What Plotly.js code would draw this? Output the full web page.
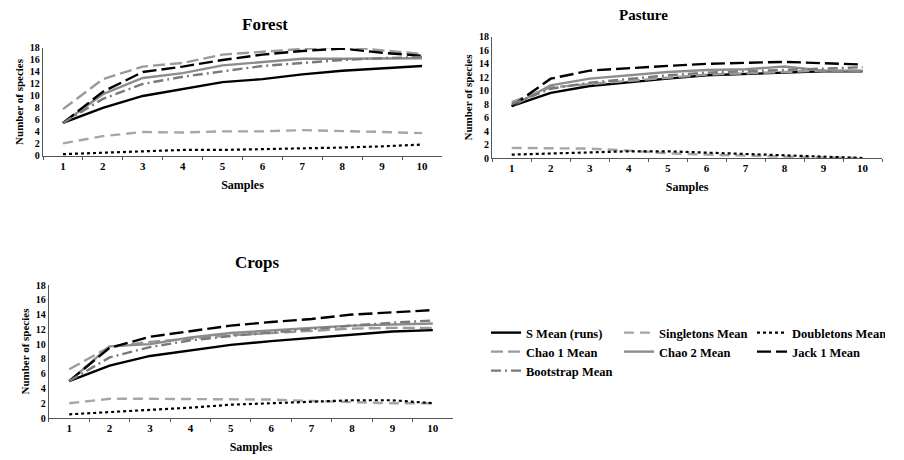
<!DOCTYPE html>
<html><head><meta charset="utf-8">
<script src="https://cdn.plot.ly/plotly-3.0.1.min.js"></script>
<style>html,body{margin:0;padding:0;background:#fff}#chart{width:904px;height:460px}</style>
</head><body><div id="chart"></div>
<script>
const samples = ['1','2','3','4','5','6','7','8','9','10'];
const seriesNames = ['S Mean (runs)','Singletons Mean','Doubletons Mean','Chao 1 Mean','Chao 2 Mean','Jack 1 Mean','Bootstrap Mean'];

const forestS     = [5.5, 8.0, 10.0, 11.2, 12.3, 12.8, 13.6, 14.2, 14.6, 15.0];
const forestSing  = [2.1, 3.3, 4.0, 3.9, 4.1, 4.1, 4.3, 4.2, 4.0, 3.8];
const forestDoub  = [0.3, 0.5, 0.7, 1.0, 1.0, 1.1, 1.2, 1.4, 1.6, 1.9];
const forestChao1 = [7.8, 12.8, 14.9, 15.5, 16.9, 17.4, 17.8, 18.3, 17.6, 17.0];
const forestChao2 = [5.5, 10.3, 13.0, 13.8, 15.1, 15.7, 16.2, 16.2, 16.3, 16.3];
const forestJack1 = [5.5, 10.7, 14.0, 14.9, 16.0, 16.9, 17.5, 17.9, 17.2, 16.7];
const forestBoot  = [5.5, 9.5, 12.0, 13.2, 14.1, 15.0, 15.5, 16.0, 16.3, 16.5];

const pastureS     = [7.7, 9.7, 10.7, 11.3, 11.8, 12.3, 12.5, 12.8, 12.9, 12.9];
const pastureSing  = [1.5, 1.5, 1.4, 1.1, 0.7, 0.5, 0.3, 0.2, 0.1, 0.0];
const pastureDoub  = [0.5, 0.7, 0.9, 1.0, 1.0, 0.8, 0.6, 0.4, 0.2, 0.0];
const pastureChao1 = [8.3, 10.5, 11.0, 11.5, 12.0, 12.4, 12.6, 12.8, 13.0, 13.0];
const pastureChao2 = [7.7, 10.8, 11.8, 12.3, 12.8, 13.1, 13.2, 13.6, 13.0, 13.0];
const pastureJack1 = [7.7, 11.8, 13.0, 13.4, 13.7, 14.0, 14.1, 14.3, 14.1, 13.9];
const pastureBoot  = [8.0, 10.3, 11.2, 11.8, 12.3, 12.7, 12.9, 13.2, 13.3, 13.5];

const cropsS     = [5.0, 7.1, 8.4, 9.2, 9.9, 10.4, 10.8, 11.3, 11.7, 11.9];
const cropsSing  = [2.0, 2.6, 2.6, 2.6, 2.6, 2.5, 2.3, 2.1, 2.0, 2.0];
const cropsDoub  = [0.5, 0.8, 1.1, 1.4, 1.8, 2.0, 2.2, 2.4, 2.4, 2.0];
const cropsChao1 = [6.6, 9.6, 10.3, 10.8, 11.2, 11.5, 11.8, 12.1, 12.2, 12.2];
const cropsChao2 = [5.0, 9.7, 10.0, 10.9, 11.5, 11.9, 12.2, 12.5, 12.6, 12.8];
const cropsJack1 = [5.0, 9.5, 11.0, 11.8, 12.5, 13.0, 13.4, 14.0, 14.3, 14.6];
const cropsBoot  = [5.0, 8.2, 9.6, 10.5, 11.1, 11.6, 12.0, 12.5, 12.9, 13.2];

const yTicks = [0,2,4,6,8,10,12,14,16,18];

const styles = [
  {color:'#000000', width:2.4, dash:'solid'},
  {color:'#a6a6a6', width:2.4, dash:'10px,6px'},
  {color:'#000000', width:2.2, dash:'dot'},
  {color:'#9a9a9a', width:2.4, dash:'12px,5px'},
  {color:'#8c8c8c', width:2.4, dash:'solid'},
  {color:'#000000', width:2.4, dash:'14px,5px'},
  {color:'#7a7a7a', width:2.4, dash:'10px,4px,2px,4px'}
];
const legendRow = ['legend','legend','legend','legend2','legend2','legend2','legend3'];

const panels = [
  {x:'x', y:'y', data:[forestS,forestSing,forestDoub,forestChao1,forestChao2,forestJack1,forestBoot]},
  {x:'x2', y:'y2', data:[pastureS,pastureSing,pastureDoub,pastureChao1,pastureChao2,pastureJack1,pastureBoot]},
  {x:'x3', y:'y3', data:[cropsS,cropsSing,cropsDoub,cropsChao1,cropsChao2,cropsJack1,cropsBoot]}
];

const traces = [];
panels.forEach((p, pi) => {
  p.data.forEach((vals, si) => {
    traces.push({
      type:'scatter', mode:'lines', x:samples, y:vals,
      xaxis:p.x, yaxis:p.y, name:seriesNames[si],
      line:Object.assign({}, styles[si]),
      showlegend: pi === 0, legend: legendRow[si]
    });
  });
});

const font = {family:'"Liberation Serif", "Times New Roman", serif', color:'#000'};
function xax(domain, anchor){
  return {domain:domain, anchor:anchor, type:'category', tickson:'boundaries',
    ticks:'outside', ticklen:3, tickcolor:'#555', showline:true, linecolor:'#555', linewidth:1.2,
    showgrid:false, zeroline:false, range:[-0.5, 9.5],
    tickfont:Object.assign({size:11, weight:'bold'}, font),
    title:{text:'<b>Samples</b>', font:Object.assign({size:12}, font), standoff:9}};
}
function yax(domain, anchor){
  return {domain:domain, anchor:anchor, range:[0,18], tickvals:yTicks, ticktext:yTicks.map(String),
    ticks:'', showline:true, linecolor:'#555', linewidth:1.2, showgrid:false, zeroline:false,
    tickfont:Object.assign({size:10, weight:'bold'}, font),
    title:{text:'<b>Number of species</b>', font:Object.assign({size:11}, font), standoff:4}};
}
function leg(yPx){
  return {orientation:'h', x:486/904, y:1-yPx/460, xanchor:'left', yanchor:'middle',
    entrywidth:88, entrywidthmode:'pixels', itemwidth:30,
    font:Object.assign({size:12.5, weight:'bold'}, font), bgcolor:'rgba(0,0,0,0)'};
}

const layout = {
  width:904, height:460, margin:{l:0,r:0,t:0,b:0},
  paper_bgcolor:'#fff', plot_bgcolor:'#fff', font:font,
  xaxis: xax([0.0476, 0.4889], 'y'),
  yaxis: yax([0.661, 0.8957], 'x'),
  xaxis2: xax([0.5445, 0.9757], 'y2'),
  yaxis2: yax([0.6565, 0.9196], 'x2'),
  xaxis3: xax([0.0542, 0.5011], 'y3'),
  yaxis3: yax([0.0913, 0.3804], 'x3'),
  annotations:[
    {text:'<b>Forest</b>', x:0.266, y:24, xref:'paper', yref:'paper', showarrow:false, font:Object.assign({size:17}, font)},
    {text:'<b>Pasture</b>', x:0.741, y:15, xref:'paper', yref:'paper', showarrow:false, font:Object.assign({size:15}, font)},
    {text:'<b>Crops</b>', x:0.258, y:262, xref:'paper', yref:'paper', showarrow:false, font:Object.assign({size:17}, font)}
  ].map(a => Object.assign(a, {y: 1 - a.y/460, yanchor:'middle'})),
  legend: leg(333),
  legend2: leg(352),
  legend3: leg(371)
};

Plotly.newPlot('chart', traces, layout, {staticPlot:true, displayModeBar:false});
</script></body></html>
